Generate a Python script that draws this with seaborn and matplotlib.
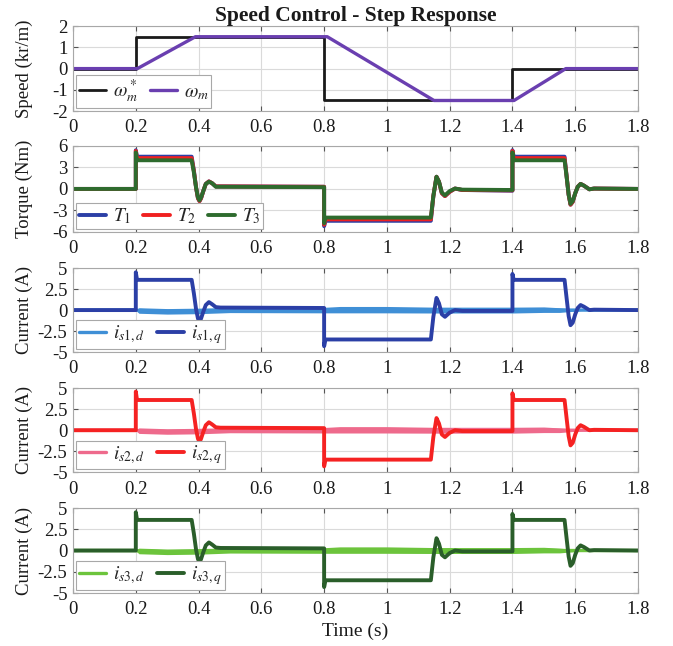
import matplotlib
matplotlib.use("Agg")
import matplotlib.pyplot as plt
import seaborn as sns

# ---------------- data ----------------
# speed reference and measured speed (kr/m)
t_ref = [0.0, 0.2, 0.2, 0.8, 0.8, 1.4, 1.4, 1.8]
w_ref = [0.0, 0.0, 1.5, 1.5, -1.5, -1.5, 0.0, 0.0]
t_spd = [0.0, 0.205, 0.39, 0.81, 1.15, 1.405, 1.57, 1.8]
w_spd = [0.0, 0.0, 1.5, 1.5, -1.5, -1.5, 0.0, 0.0]

# common time breakpoints for torque and q-axis currents (s)
t_dyn = [0.0, 0.2, 0.2, 0.204, 0.378, 0.385, 0.392, 0.398, 0.403, 0.408, 0.415, 0.423, 0.433, 0.443, 0.455, 0.47,
         0.8, 0.8, 0.804, 1.14, 1.148, 1.158, 1.166, 1.175, 1.185, 1.2, 1.217, 1.24,
         1.4, 1.4, 1.404, 1.566, 1.572, 1.579, 1.585, 1.592, 1.6, 1.608, 1.617, 1.628, 1.645, 1.66, 1.8]

# electromagnetic torques of the three machines (Nm)
T1 = [0.0, 0.0, 5.4, 4.5, 4.5, 2.6, 0.2, -1.3, -1.7, -1.3, -0.3, 0.7, 1.05, 0.8, 0.35, 0.35,
      0.3, -5.2, -4.45, -4.45, -1.0, 1.7, 1.0, -0.6, -1.0, -0.4, 0.05, -0.15,
      -0.25, 5.4, 4.5, 4.5, 2.0, -0.8, -2.2, -1.8, -0.6, 0.3, 0.7, 0.45, -0.05, 0.05, 0.0]
T2 = [0.0, 0.0, 5.3, 4.3, 4.3, 2.5, 0.2, -1.3, -1.7, -1.3, -0.3, 0.7, 1.05, 0.8, 0.35, 0.35,
      0.3, -5.0, -4.25, -4.25, -1.0, 1.7, 1.0, -0.6, -1.0, -0.4, 0.05, -0.15,
      -0.2, 5.3, 4.3, 4.3, 2.0, -0.8, -2.2, -1.8, -0.6, 0.3, 0.7, 0.45, -0.05, 0.05, 0.0]
T3 = [0.0, 0.0, 5.1, 4.0, 4.0, 2.3, 0.2, -1.2, -1.6, -1.2, -0.3, 0.7, 1.0, 0.8, 0.3, 0.3,
      0.25, -4.8, -4.0, -4.0, -1.0, 1.7, 1.0, -0.5, -0.9, -0.3, 0.05, -0.1,
      -0.15, 5.1, 4.0, 4.0, 1.9, -0.8, -2.1, -1.7, -0.6, 0.3, 0.7, 0.45, -0.05, 0.05, 0.0]

# q-axis currents (A)
iq1 = [0.0, 0.0, 4.5, 3.6, 3.6, 2.0, 0.1, -1.0, -1.35, -1.0, -0.2, 0.6, 0.95, 0.7, 0.35, 0.3,
       0.25, -4.3, -3.5, -3.5, -0.8, 1.45, 0.8, -0.5, -0.8, -0.3, 0.0, -0.1,
       -0.1, 4.3, 3.6, 3.6, 1.6, -0.7, -1.8, -1.5, -0.5, 0.25, 0.6, 0.4, 0.0, 0.05, 0.0]
iq2 = [0.0, 0.0, 4.6, 3.6, 3.6, 2.0, 0.1, -1.0, -1.4, -1.0, -0.2, 0.6, 0.95, 0.7, 0.35, 0.3,
       0.25, -4.3, -3.5, -3.5, -0.8, 1.45, 0.8, -0.5, -0.8, -0.3, 0.0, -0.1,
       -0.1, 4.4, 3.6, 3.6, 1.6, -0.7, -1.8, -1.5, -0.5, 0.25, 0.6, 0.4, 0.0, 0.05, 0.0]
iq3 = [0.0, 0.0, 4.5, 3.6, 3.6, 2.0, 0.1, -1.0, -1.4, -1.0, -0.2, 0.6, 0.95, 0.7, 0.35, 0.3,
       0.25, -4.3, -3.5, -3.5, -0.8, 1.45, 0.8, -0.5, -0.8, -0.3, 0.0, -0.1,
       -0.1, 4.3, 3.6, 3.6, 1.6, -0.7, -1.8, -1.5, -0.5, 0.25, 0.6, 0.4, 0.0, 0.05, 0.0]

# d-axis currents: mean value and ripple half-width (A)
t_d = [0.0, 0.2, 0.21, 0.3, 0.4, 0.5, 0.8, 0.85, 1.0, 1.15, 1.4, 1.5, 1.55, 1.62, 1.8]
id_mean = [0.0, 0.0, -0.05, -0.15, -0.1, 0.0, 0.0, 0.05, 0.05, 0.0, 0.0, 0.05, 0.0, 0.0, 0.0]
id_ripple = [0.04, 0.04, 0.33, 0.33, 0.33, 0.3, 0.33, 0.38, 0.38, 0.35, 0.35, 0.33, 0.28, 0.06, 0.05]

x_ticks = [0, 0.2, 0.4, 0.6, 0.8, 1, 1.2, 1.4, 1.6, 1.8]
x_labels = ["0", "0.2", "0.4", "0.6", "0.8", "1", "1.2", "1.4", "1.6", "1.8"]
speed_ticks = [-2, -1, 0, 1, 2]
speed_labels = ["-2", "-1", "0", "1", "2"]
torque_ticks = [-6, -3, 0, 3, 6]
torque_labels = ["-6", "-3", "0", "3", "6"]
current_ticks = [-5, -2.5, 0, 2.5, 5]
current_labels = ["-5", "-2.5", "0", "2.5", "5"]

# ---------------- style ----------------
sns.set_style("whitegrid")
plt.rcParams["font.family"] = ["Liberation Serif", "DejaVu Serif"]
plt.rcParams["mathtext.fontset"] = "stix"

fig = plt.figure(figsize=(6.73, 6.46), dpi=100)
left, width = 0.1085, 0.8395
rows = [(0.828, 0.1316), (0.641, 0.1331), (0.455, 0.1300), (0.269, 0.1300), (0.082, 0.1316)]
axes = [fig.add_axes([left, b, width, h]) for b, h in rows]

GRID = "#dadada"
SPINE = "#a8a8a8"


def style_axis(ax, yticks, ylabels, ylabel):
    ax.set_xlim(0, 1.8)
    ax.set_ylim(yticks[0], yticks[-1])
    ax.set_xticks(x_ticks)
    ax.set_xticklabels(x_labels)
    ax.set_yticks(yticks)
    ax.set_yticklabels(ylabels)
    ax.grid(True, color=GRID, lw=0.8)
    ax.set_axisbelow(True)
    for s in ax.spines.values():
        s.set_color(SPINE)
        s.set_linewidth(0.8)
    ax.tick_params(direction="in", length=3.5, width=0.8, color="#555555",
                   top=True, right=True, bottom=True, left=True,
                   labelsize=13.5, labelcolor="#1a1a1a")
    ax.tick_params(axis="x", pad=6)
    ax.tick_params(axis="y", pad=4)
    ax.set_ylabel(ylabel, fontsize=13.5, color="#1a1a1a")
    ax.yaxis.set_label_coords(-0.071, 0.5)
    ax.set_xlabel("")


def add_legend(ax):
    leg = ax.legend(loc="lower left", ncol=3, fontsize=14, frameon=True, fancybox=False,
                    borderaxespad=0.15, handlelength=1.4, handletextpad=0.35,
                    columnspacing=0.6, borderpad=0.15, framealpha=1.0)
    leg.get_frame().set_edgecolor("#a8a8a8")
    leg.get_frame().set_linewidth(0.8)


line_kw = dict(sort=False, estimator=None)

# speed
ax = axes[0]
sns.lineplot(x=t_ref, y=w_ref, ax=ax, color="#1a1a1a", lw=2.0, label=r"$\omega_m^*$", **line_kw)
sns.lineplot(x=t_spd, y=w_spd, ax=ax, color="#6a3fb0", lw=2.4, label=r"$\omega_m$", **line_kw)
style_axis(ax, speed_ticks, speed_labels, "Speed (kr/m)")
add_legend(ax)
ax.set_title("Speed Control - Step Response", fontsize=15.5, fontweight="bold", pad=4,
              color="#1a1a1a")

# torque
ax = axes[1]
sns.lineplot(x=t_dyn, y=T1, ax=ax, color="#2b3fa6", lw=2.8, label=r"$T_1$", **line_kw)
sns.lineplot(x=t_dyn, y=T2, ax=ax, color="#f02020", lw=2.8, label=r"$T_2$", **line_kw)
sns.lineplot(x=t_dyn, y=T3, ax=ax, color="#2e6b2e", lw=2.8, label=r"$T_3$", **line_kw)
style_axis(ax, torque_ticks, torque_labels, "Torque (Nm)")
add_legend(ax)

# currents of the three machines
current_sets = [
    (iq1, "#3f8fd6", "#2b3fa6", r"$i_{s1,d}$", r"$i_{s1,q}$"),
    (iq2, "#ee6a8c", "#f52222", r"$i_{s2,d}$", r"$i_{s2,q}$"),
    (iq3, "#6cc43c", "#2a5e2a", r"$i_{s3,d}$", r"$i_{s3,q}$"),
]
for ax, (iq, c_d, c_q, lab_d, lab_q) in zip(axes[2:], current_sets):
    lo = [m - r for m, r in zip(id_mean, id_ripple)]
    hi = [m + r for m, r in zip(id_mean, id_ripple)]
    ax.fill_between(t_d, lo, hi, color=c_d, lw=0)
    sns.lineplot(x=t_d, y=id_mean, ax=ax, color=c_d, lw=2.4, label=lab_d, **line_kw)
    sns.lineplot(x=t_dyn, y=iq, ax=ax, color=c_q, lw=2.8, label=lab_q, **line_kw)
    style_axis(ax, current_ticks, current_labels, "Current (A)")
    add_legend(ax)

axes[-1].set_xlabel("Time (s)", fontsize=14, labelpad=3, color="#1a1a1a")

fig.savefig("out.png", dpi=100)
